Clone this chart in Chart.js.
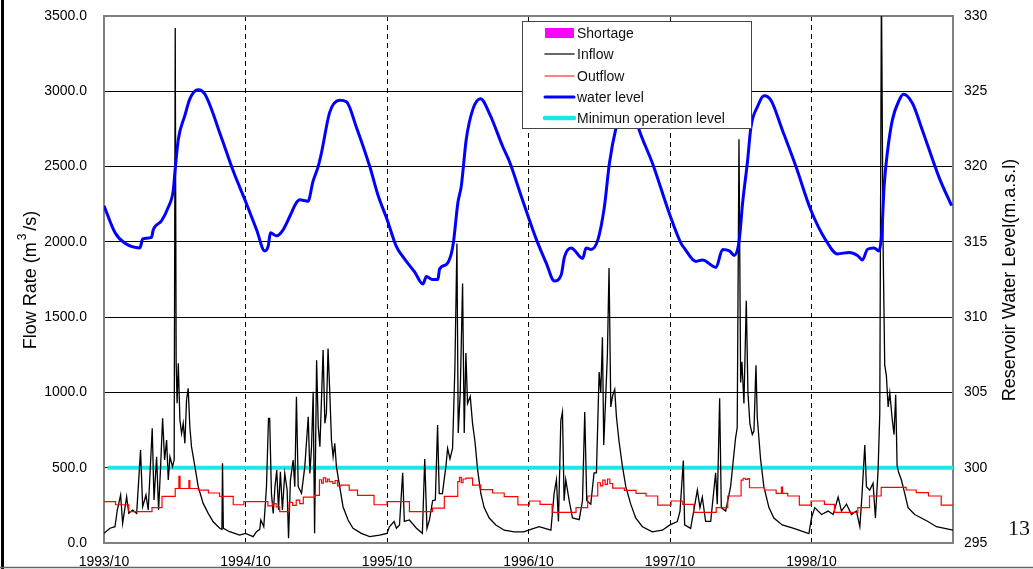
<!DOCTYPE html>
<html>
<head>
<meta charset="utf-8">
<script src="https://cdn.jsdelivr.net/npm/chart.js@4.4.0/dist/chart.umd.min.js"></script>
<style>
html, body { margin: 0; padding: 0; background: #fff; }
#wrap { width: 1033px; height: 569px; }
</style>
</head>
<body>
<div id="wrap"><canvas id="grafica" width="1033" height="569"></canvas></div>
<script>
// x = months since 1993/10
const yearLabels = ["1993/10", "1994/10", "1995/10", "1996/10", "1997/10", "1998/10"];
const flowTicks = [0, 500, 1000, 1500, 2000, 2500, 3000, 3500];
const levelTicks = [295, 300, 305, 310, 315, 320, 325, 330];
const leftTitle = ["Flow Rate (m", "3", "/s)"];
const rightTitle = "Reservoir Water Level(m.a.s.l)";
const legendNames = ["Shortage", "Inflow", "Outflow", "water level", "Minimun operation level"];
const pageNumber = "13";
const minLevel = 300;

const inflowMonths = [
  0, 0.51, 0.93, 1.13, 1.41, 1.58, 1.92, 2.1, 2.43, 2.77, 3.1, 3.28, 3.56, 3.75, 4.09, 4.24, 4.46, 4.63, 4.8, 4.97,
  5.14, 5.31, 5.45, 5.59, 5.81, 5.95, 6.04, 6.12, 6.2, 6.3, 6.44, 6.58, 6.72, 6.86, 7.0, 7.14, 7.28, 7.42, 7.71, 7.99,
  8.41, 8.84, 9.26, 9.82, 10.0, 10.05, 10.12, 10.66, 11.5, 12.0,
  12.65, 12.93, 13.21, 13.3, 13.55, 13.78, 13.95, 14.05, 14.2, 14.35, 14.5, 14.65, 14.8, 14.96, 15.13, 15.33, 15.53, 15.65, 15.81, 16.04,
  16.18, 16.32, 16.47, 16.75, 17.03, 17.32, 17.46, 17.6, 17.74, 17.86, 18.03, 18.17, 18.31, 18.47, 18.58, 18.73, 18.86, 19.0, 19.15, 19.29,
  19.43, 19.57, 19.71, 19.99, 20.27, 20.7, 21.12, 21.82, 22.53, 23.38, 24.0,
  24.2, 24.6, 24.8, 25.06, 25.33, 25.47, 25.9, 26.5, 27.0, 27.2, 27.39, 27.6, 27.87, 28.1, 28.29, 28.43, 28.7, 29.0, 29.14, 29.34,
  29.56, 29.76, 29.93, 30.04, 30.21, 30.41, 30.55, 30.69, 30.83, 31.06, 31.26, 31.46, 31.68, 31.96, 32.24, 32.67, 33.23, 33.94, 34.79, 35.6, 36.0,
  36.9, 37.9, 38.17, 38.37, 38.54, 38.74, 38.88, 39.02, 39.16, 39.45, 39.73, 40.3, 40.58, 40.77, 40.94, 41.28, 41.56, 41.76, 41.99, 42.13,
  42.27, 42.38, 42.55, 42.69, 42.83, 42.98, 43.12, 43.31, 43.46, 43.68, 43.96, 44.25, 44.67, 45.09, 45.66, 46.5, 47.35, 48.0,
  48.62, 48.85, 49.13, 49.24, 49.75, 50.32, 50.54, 50.74, 51.02, 51.45, 51.87, 52.01, 52.21, 52.35, 52.72, 53.14, 53.56, 53.7, 53.85, 53.99,
  54.1, 54.27, 54.47, 54.61, 54.78, 54.98, 55.12, 55.29, 55.4, 55.68, 55.96, 56.39, 56.81, 57.52, 58.5, 59.78, 60.0,
  60.28, 60.85, 61.41, 61.84, 62.26, 62.54, 62.97, 63.39, 63.81, 64.1, 64.29, 64.52, 64.66, 64.94, 65.22, 65.42, 65.65, 65.79, 65.93, 66.07,
  66.21, 66.35, 66.5, 66.64, 66.83, 67.0, 67.14, 67.26, 67.4, 67.62, 67.91, 68.19, 68.75, 69.32, 69.88, 70.59, 71.3, 72
];
const inflowValues = [
  64, 98, 108, 219, 319, 131, 307, 197, 219, 197, 618, 241, 319, 219, 762, 286, 573, 219, 507, 828,
  551, 684, 418, 573, 507, 551, 3420, 1193, 928, 1193, 817, 728, 795, 662, 950, 1027, 772, 640, 507, 374,
  263, 197, 141, 98, 90, 529, 98, 75, 53, 64,
  42, 75, 91, 153, 108, 374, 828, 828, 330, 197, 374, 485, 219, 473, 219, 462, 352, 31, 418, 551,
  374, 972, 374, 330, 507, 839, 462, 640, 1005, 64, 1213, 772, 640, 1016, 1282, 795, 861, 1292, 994, 684,
  573, 662, 507, 374, 241, 153, 98, 64, 42, 53, 64,
  108, 143, 98, 120, 466, 143, 153, 98, 64, 558, 97, 153, 281, 286, 784, 328, 328, 512, 628, 558,
  628, 1170, 1989, 731, 997, 1723, 731, 1262, 927, 974, 789, 674, 489, 328, 235, 166, 120, 85, 74, 74, 85,
  108, 85, 328, 420, 143, 812, 870, 281, 420, 281, 166, 155, 281, 870, 281, 258, 466, 466, 1135, 997,
  1366, 651, 974, 1250, 1827, 904, 974, 1020, 835, 674, 512, 374, 258, 166, 108, 74, 85, 120,
  143, 212, 547, 120, 97, 351, 235, 305, 143, 143, 466, 258, 962, 235, 212, 374, 697, 766, 2681, 1066,
  1204, 927, 1608, 997, 789, 720, 743, 1181, 835, 558, 374, 235, 166, 120, 97, 62, 166,
  235, 189, 212, 189, 305, 212, 258, 189, 212, 108, 328, 651, 374, 351, 397, 166, 489, 858, 3700, 1989,
  1181, 1112, 904, 997, 835, 720, 985, 512, 466, 420, 328, 235, 189, 166, 143, 108, 97, 85
];

const outflowMonths = [
  0, 0.98, 2.1, 4.07, 4.92, 6.04, 6.35, 6.45, 7.2, 7.28, 8.0, 8.85, 9.8, 10.96, 11.86,
  13.9, 14.3, 14.6, 14.9, 15.7, 16.0, 16.3, 16.6, 16.9, 17.85, 18.27, 18.45, 18.6, 18.8, 18.95, 19.1, 19.4, 19.6, 19.8, 20.1, 20.8, 21.5, 22.9,
  24.0, 25.9, 27.87, 28.86, 30.0, 30.15, 30.3, 30.45, 30.7, 31.26, 31.96, 32.95, 33.94, 35.1,
  36.08, 36.98, 38.0, 40.03, 41.02, 41.87, 42.1, 42.3, 42.5, 42.7, 42.9, 43.14, 44.13, 45.12, 45.97, 46.96,
  48.09, 49.08, 50.02, 51.92, 52.9, 54.03, 54.2, 54.4, 54.6, 54.74, 56.01, 57.0, 57.45, 57.55, 57.98, 58.97,
  59.96, 61.1, 61.95, 63.93, 64.92, 65.91, 68.03, 68.88, 69.92, 71.0, 72
];
const outflowValues = [
  275, 254, 208, 235, 309, 362, 443, 362, 415, 362, 351, 332, 309, 254, 275,
  247, 262, 240, 208, 270, 250, 285, 262, 305, 316, 420, 398, 432, 405, 425, 408, 395, 415, 380, 385, 351, 316, 254,
  275, 208, 231, 309, 408, 436, 400, 425, 431, 385, 355, 332, 308, 253,
  279, 257, 204, 235, 312, 400, 380, 418, 390, 425, 395, 365, 349, 330, 312, 252,
  279, 257, 204, 235, 312, 418, 430, 422, 428, 367, 352, 330, 372, 330, 312, 252,
  279, 257, 204, 235, 312, 370, 352, 334, 312, 252, 252
];

const levelMonths = [
  0, 0.94, 1.78, 3.05, 3.28, 4.03, 4.18, 4.88, 5.45, 5.87, 6.01, 6.3, 6.86, 7.28, 7.99, 8.56, 9.97, 10.96,
  12.0, 12.94, 13.63, 13.92, 14.12, 14.63, 15.19, 15.76, 16.32, 16.6, 17.3, 17.72, 18.16, 18.44, 19.14, 19.99, 20.56, 21.41, 22.54, 23.24,
  24.0, 24.79, 25.36, 26.34, 27.05, 27.34, 27.84, 28.32, 28.46, 29.03, 29.45, 29.64, 30.01, 30.3, 30.72, 31.28, 31.93, 32.7, 33.83, 34.4, 35.4,
  36.65, 37.5, 38.2, 38.77, 39.05, 39.61, 40.6, 40.88, 41.3, 41.87, 42.43, 42.86, 43.43, 44.4, 45.4, 46.52, 47.94,
  48.94, 49.2, 50.2, 50.76, 51.9, 52.46, 53.04, 53.45, 53.87, 54.16, 54.58, 54.86, 55.43, 55.99, 56.56, 57.54, 58.68, 59.95,
  61.22, 62.21, 63.19, 63.9, 64.32, 64.74, 65.3, 65.72, 65.96, 66.16, 66.43, 66.86, 67.43, 67.79, 68.56, 69.41, 70.81, 71.88
];
const levelValues = [
  317.4, 315.6, 314.9, 314.6, 315.2, 315.3, 315.8, 316.4, 317.3, 318.4, 319.6, 321.8, 323.4, 324.5, 325.1, 324.8, 321.9, 319.7,
  317.7, 315.8, 314.4, 314.7, 315.6, 315.4, 315.8, 316.7, 317.6, 317.8, 317.7, 319.0, 320.0, 320.9, 323.6, 324.4, 324.3, 322.6, 320.0, 318.1,
  316.5, 314.7, 314.0, 313.0, 312.2, 312.7, 312.5, 312.5, 313.2, 313.5, 314.2, 315.0, 317.6, 318.7, 321.8, 323.8, 324.5, 323.5, 321.3, 320.3, 318.0,
  315.2, 313.6, 312.4, 312.8, 314.0, 314.6, 313.9, 314.6, 314.5, 315.1, 317.3, 320.2, 322.6, 325.0, 322.4, 320.2, 316.9,
  314.9, 314.6, 313.7, 313.8, 313.3, 314.5, 314.4, 314.1, 315.1, 317.6, 320.4, 322.6, 324.0, 324.7, 324.4, 322.4, 320.0, 317.1,
  315.1, 314.2, 314.3, 314.1, 313.8, 314.5, 314.6, 314.4, 315.6, 318.7, 320.9, 323.1, 324.4, 324.8, 324.2, 322.4, 319.3, 317.4
];

const pairs = (xs, ys) => xs.map((x, i) => ({ x: x, y: ys[i] }));
const tickFont = { family: '"Liberation Sans", Arial, sans-serif', size: 14 };

const extras = {
  id: 'extras',
  afterDraw(chart) {
    const ctx = chart.ctx;
    ctx.save();
    // marco de la pagina
    ctx.fillStyle = '#000';
    ctx.fillRect(1, 0, 3, 569);
    ctx.strokeStyle = '#666';
    ctx.lineWidth = 1.5;
    ctx.beginPath(); ctx.moveTo(0, 567.5); ctx.lineTo(1033, 567.5); ctx.stroke();

    // titulos de los ejes
    const big = '18px "Liberation Sans", Arial, sans-serif';
    const small = '12px "Liberation Sans", Arial, sans-serif';
    ctx.fillStyle = '#000';
    ctx.textBaseline = 'middle';
    ctx.textAlign = 'left';
    ctx.save();
    ctx.translate(31, 280);
    ctx.rotate(-Math.PI / 2);
    ctx.font = big;
    const w1 = ctx.measureText(leftTitle[0]).width;
    const w3 = ctx.measureText(leftTitle[2]).width;
    ctx.font = small;
    const w2 = ctx.measureText(leftTitle[1]).width + 5;
    let x = -(w1 + w2 + w3) / 2;
    ctx.font = big; ctx.fillText(leftTitle[0], x, 0);
    ctx.font = small; ctx.fillText(leftTitle[1], x + w1 + 2, -8);
    ctx.font = big; ctx.fillText(leftTitle[2], x + w1 + w2, 0);
    ctx.restore();

    ctx.save();
    ctx.translate(1010, 280);
    ctx.rotate(-Math.PI / 2);
    ctx.font = big;
    ctx.textAlign = 'center';
    ctx.fillText(rightTitle, 0, 0);
    ctx.restore();

    // numero de pagina
    ctx.font = '22px "Liberation Serif", "Times New Roman", serif';
    ctx.fillStyle = '#111';
    ctx.textBaseline = 'alphabetic';
    ctx.fillText(pageNumber, 1008, 535);

    // leyenda
    ctx.fillStyle = '#fff';
    ctx.fillRect(522, 21, 230, 108);
    ctx.strokeStyle = '#444';
    ctx.lineWidth = 1;
    ctx.strokeRect(522.5, 21.5, 229, 107);
    const rows = [33, 54, 76, 97, 118];
    ctx.fillStyle = '#ff00ff';
    ctx.fillRect(545, 28, 29, 10);
    const swatch = (y, color, w) => {
      ctx.strokeStyle = color; ctx.lineWidth = w; ctx.lineCap = 'round';
      ctx.beginPath(); ctx.moveTo(545, y); ctx.lineTo(574, y); ctx.stroke();
    };
    swatch(rows[1], '#333', 1.5);
    swatch(rows[2], '#ff0000', 1);
    swatch(rows[3], '#0000ff', 3);
    swatch(rows[4], '#1ee6e6', 4.5);
    ctx.fillStyle = '#111';
    ctx.font = '14px "Liberation Sans", Arial, sans-serif';
    ctx.textBaseline = 'middle';
    legendNames.forEach((n, i) => ctx.fillText(n, 577, rows[i] + 1));
    ctx.restore();
  }
};

// fija el area del grafico: 104..953 x 16..543
const fitVertical = (w) => (s) => { s.width = w; s.paddingTop = 0; s.paddingBottom = 0; };

const config = {
  type: 'line',
  data: {
    datasets: [
      { label: legendNames[3], data: pairs(levelMonths, levelValues), yAxisID: 'y2', borderColor: '#0000ff',
        borderWidth: 3, pointRadius: 0, cubicInterpolationMode: 'monotone' },
      { label: legendNames[2], data: pairs(outflowMonths, outflowValues), yAxisID: 'y', borderColor: '#ff0000',
        borderWidth: 1.2, pointRadius: 0, stepped: true },
      { label: legendNames[1], data: pairs(inflowMonths, inflowValues), yAxisID: 'y', borderColor: '#000',
        borderWidth: 1.3, pointRadius: 0 },
      { label: legendNames[4], data: [{ x: 0.3, y: minLevel }, { x: 72, y: minLevel }], yAxisID: 'y2',
        borderColor: '#1ee6e6', borderWidth: 4, pointRadius: 0 }
    ]
  },
  options: {
    responsive: false,
    animation: false,
    devicePixelRatio: 1,
    layout: { padding: { top: 16, left: 0, right: 0, bottom: 0 } },
    plugins: { legend: { display: false }, tooltip: { enabled: false }, title: { display: false } },
    scales: {
      x: {
        type: 'linear', min: 0, max: 72,
        afterFit: (s) => { s.height = 26; s.paddingLeft = 0; s.paddingRight = 0; },
        afterBuildTicks: (s) => { s.ticks = yearLabels.map((l, i) => ({ value: i * 12 })).concat([{ value: 72 }]); },
        ticks: { callback: (v) => yearLabels[v / 12] || '', autoSkip: false, maxRotation: 0, padding: 11, color: '#000', font: tickFont },
        grid: { drawTicks: false, color: (c) => (c.tick && (c.tick.value === 0 || c.tick.value === 72)) ? 'rgba(0,0,0,0)' : '#000', lineWidth: 1 },
        border: { color: '#808080', width: 2, dash: [5, 4] }
      },
      y: {
        position: 'left', min: 0, max: 3500,
        afterFit: fitVertical(104),
        afterBuildTicks: (s) => { s.ticks = flowTicks.map(v => ({ value: v })); },
        ticks: { callback: (v) => v.toFixed(1), padding: 17, color: '#000', font: tickFont },
        grid: { drawTicks: false, color: (c) => (c.tick && c.tick.value === 3500) ? '#808080' : '#000',
          lineWidth: (c) => (c.tick && c.tick.value === 3500) ? 2 : 1 },
        border: { color: '#808080', width: 2 }
      },
      y2: {
        position: 'right', min: 295, max: 330,
        afterFit: fitVertical(80),
        afterBuildTicks: (s) => { s.ticks = levelTicks.map(v => ({ value: v })); },
        ticks: { callback: (v) => String(v), padding: 11, color: '#000', font: tickFont },
        grid: { drawOnChartArea: false, drawTicks: false },
        border: { color: '#808080', width: 2 }
      }
    }
  },
  plugins: [extras]
};

const chart = new Chart(document.getElementById('grafica'), config);
</script>
</body>
</html>
